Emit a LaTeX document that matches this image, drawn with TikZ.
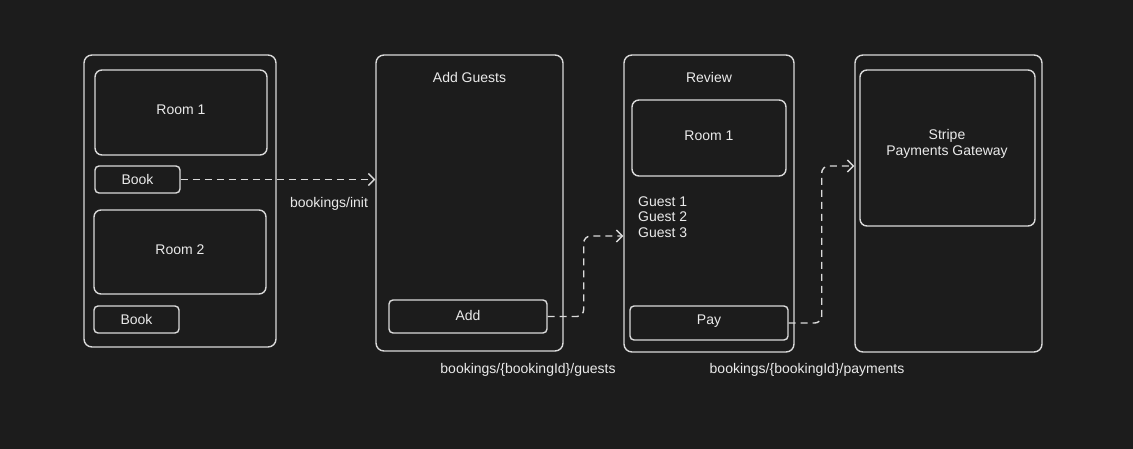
\documentclass[tikz,border=0pt]{standalone}
\usepackage{fontspec}
\setmainfont{Liberation Sans}
\usetikzlibrary{arrows.meta}
\definecolor{canvas}{HTML}{1C1C1C}
\definecolor{ink}{HTML}{DADADA}
\definecolor{txt}{HTML}{EAEAEA}
\tikzset{
  screen/.style={draw=ink,line width=1.4pt,rounded corners=8pt,inner sep=0pt},
  panel/.style={draw=ink,line width=1.4pt,rounded corners=7pt,inner sep=0pt,text=txt},
  btn/.style={draw=ink,line width=1.4pt,rounded corners=4pt,inner sep=0pt,text=txt},
  lbl/.style={text=txt,inner sep=0pt},
  flow/.style={draw=ink,line width=1.4pt,dash pattern=on 7pt off 5pt,rounded corners=7pt,
    -{Straight Barb[length=6pt,width=12pt,line width=1.4pt]}}
}
\begin{document}
\begin{tikzpicture}[x=1pt,y=-1pt,font=\fontsize{14}{15.5}\selectfont]
  \fill[canvas] (0,0) rectangle (1133,449);
  \useasboundingbox (0,0) rectangle (1133,449);
  % rooms screen
  \node[screen,minimum width=192pt,minimum height=292pt] (rooms) at (180,201) {};
  \node[panel,minimum width=172pt,minimum height=85pt] (roomA) at (181,112.5) {};
  \node[lbl] (roomAtxt) at (181,110) {Room 1};
  \node[btn,minimum width=85pt,minimum height=27pt] (bookA) at (137.5,179.5) {Book};
  \node[panel,minimum width=172pt,minimum height=84pt] (roomB) at (180,252) {};
  \node[lbl] (roomBtxt) at (180,250) {Room 2};
  \node[btn,minimum width=85pt,minimum height=27pt] (bookB) at (136.5,319.5) {Book};
  % guests screen
  \node[screen,minimum width=187pt,minimum height=296pt] (guests) at (469.5,203) {};
  \node[lbl] (guestsTitle) at (469.5,77) {Add Guests};
  \node[btn,minimum width=158pt,minimum height=33pt] (add) at (468,316.5) {};
  \node[lbl] (addtxt) at (468,315) {Add};
  % review screen
  \node[screen,minimum width=170pt,minimum height=297pt] (review) at (709,203.5) {};
  \node[lbl] (reviewTitle) at (709,77) {Review};
  \node[panel,minimum width=154pt,minimum height=76pt] (roomR) at (709,138) {};
  \node[lbl] (roomRtxt) at (709,136) {Room 1};
  \node[lbl,anchor=north west,align=left] (guestList) at (638,196.5) {Guest 1\\Guest 2\\Guest 3};
  \node[btn,minimum width=158pt,minimum height=34pt] (pay) at (709,323) {};
  \node[lbl] (paytxt) at (709,321) {Pay};
  % payment screen
  \node[screen,minimum width=187pt,minimum height=297pt] (payment) at (948.5,203.5) {};
  \node[panel,minimum width=175pt,minimum height=156pt] (gateway) at (947.5,148) {};
  \node[lbl,align=center] (gatewayTxt) at (947,144) {Stripe\\Payments Gateway};
  % calls
  \draw[flow] (bookA.east) -- (guests.west |- bookA.east);
  \node[lbl] (initLbl) at (329,204) {bookings/init};
  \draw[flow] (add.east) -- ++(36,0) |- ([yshift=-32.5pt]review.west);
  \node[lbl] (guestsLbl) at (528,370) {bookings/\{bookingId\}/guests};
  \draw[flow] (pay.east) -- ++(33,0) |- ([yshift=37.5pt]payment.west);
  \node[lbl] (payLbl) at (807,370) {bookings/\{bookingId\}/payments};
\end{tikzpicture}
\end{document}
